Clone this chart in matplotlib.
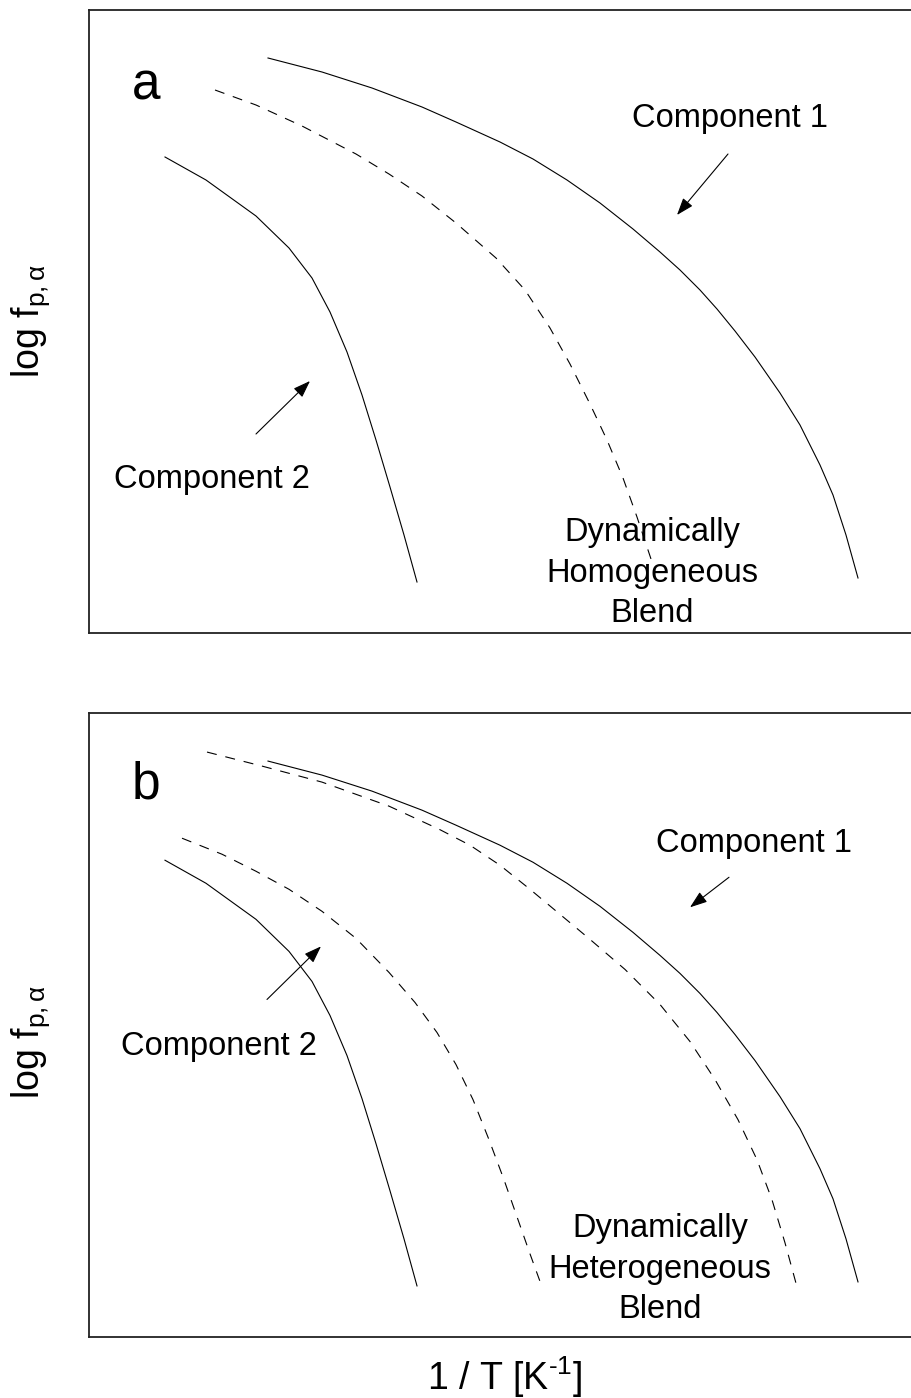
"""
Schematic: relaxation map of a blend, dynamically homogeneous (a) vs heterogeneous (b).
Usage: python plot.py  -> out.png
"""
import matplotlib
matplotlib.use("Agg")
import matplotlib.pyplot as plt

plt.rcParams["font.family"] = ["Liberation Sans", "DejaVu Sans"]
plt.rcParams["mathtext.fontset"] = "custom"
plt.rcParams["mathtext.rm"] = "Liberation Sans"
plt.rcParams["mathtext.it"] = "Liberation Sans:italic"

# arbitrary units, x ~ 1/T (0..831), y ~ log f (0..623)
comp1_x = [179, 233, 283, 333, 367, 411, 444, 478, 511, 544, 571, 591, 611, 628, 646, 666, 691, 711, 731, 744, 757, 769]
comp1_y = [575, 561, 545, 526, 511, 491, 474, 453, 430, 404, 381, 363, 343, 324, 302, 276, 240, 208, 168, 138, 98, 55]

comp2_x = [76, 117, 167, 200, 223, 241, 258, 273, 287, 301, 315, 328]
comp2_y = [476, 453, 417, 385, 355, 321, 281, 238, 193, 146, 98, 51]

# panel a: single blend process
homog_x = [126, 167, 213, 267, 300, 333, 367, 407, 436, 461, 481, 501, 518, 534, 548, 563]
homog_y = [543, 528, 507, 479, 459, 437, 410, 375, 343, 305, 269, 229, 193, 155, 116, 71]

# panel b: two blend processes
het_fast_x = [118, 173, 233, 300, 350, 381, 411, 441, 471, 501, 536, 571, 601, 626, 649, 668, 683, 696, 708]
het_fast_y = [584, 570, 554, 530, 507, 491, 471, 447, 422, 397, 367, 332, 295, 257, 217, 177, 137, 94, 50]
het_slow_x = [93, 133, 167, 200, 233, 267, 300, 326, 348, 367, 384, 400, 415, 428, 441, 453]
het_slow_y = [498, 482, 465, 447, 425, 398, 364, 334, 304, 272, 237, 197, 157, 120, 83, 50]

XMAX, YMAX = 831, 623
FS_TXT = 23.5
FS_LAB = 27
FS_PANEL = 37
DASH = (0, (9, 8))

fig = plt.figure(figsize=(9.11, 13.98), dpi=100)
ax_a = fig.add_axes([89 / 911, (1398 - 633) / 1398, 831 / 911, 623 / 1398])
ax_b = fig.add_axes([89 / 911, (1398 - 1337) / 1398, 831 / 911, 624 / 1398])


def _style(ax):
    ax.set_xlim(0, XMAX)
    ax.set_ylim(0, YMAX)
    ax.set_xticks([])
    ax.set_yticks([])
    ax.spines["right"].set_visible(False)
    for s in ("top", "left", "bottom"):
        ax.spines[s].set_linewidth(1.3)
        ax.spines[s].set_edgecolor("#222222")


def _arrow(ax, start, tip):
    ax.annotate("", xy=tip, xytext=start,
                arrowprops=dict(arrowstyle="-|>,head_length=0.7,head_width=0.25",
                                color="black", lw=0.8, mutation_scale=15,
                                shrinkA=0, shrinkB=0))


ylab = r"log f$_{\mathrm{p,α}}$"

# ── Panel a ─────────────────────────────────────────────
_style(ax_a)
ax_a.plot(comp1_x, comp1_y, color="black", lw=0.8)
ax_a.plot(comp2_x, comp2_y, color="black", lw=0.8)
ax_a.plot(homog_x, homog_y, color="black", lw=0.8, linestyle=DASH)
ax_a.text(57, 533, "a", fontsize=FS_PANEL, ha="center", va="baseline")
ax_a.text(641, 506, "Component 1", fontsize=FS_TXT, ha="center", va="baseline")
_arrow(ax_a, (639, 479), (588, 418))
ax_a.text(123, 145, "Component 2", fontsize=FS_TXT, ha="center", va="baseline")
_arrow(ax_a, (167, 199), (221, 252))
# baseline of the last line
ax_a.text(563, 11, "Dynamically\nHomogeneous\nBlend", fontsize=FS_TXT,
          ha="center", va="baseline", multialignment="center", linespacing=1.39)
ax_a.set_ylabel(ylab, fontsize=FS_LAB)
ax_a.yaxis.set_label_coords(-0.044, 0.50)

# ── Panel b ─────────────────────────────────────────────
_style(ax_b)
ax_b.plot(comp1_x, comp1_y, color="black", lw=0.8)
ax_b.plot(comp2_x, comp2_y, color="black", lw=0.8)
ax_b.plot(het_fast_x, het_fast_y, color="black", lw=0.8, linestyle=DASH)
ax_b.plot(het_slow_x, het_slow_y, color="black", lw=0.8, linestyle=DASH)
ax_b.text(57, 538, "b", fontsize=FS_PANEL, ha="center", va="baseline")
ax_b.text(665, 484, "Component 1", fontsize=FS_TXT, ha="center", va="baseline")
_arrow(ax_b, (640, 459), (601, 429))
ax_b.text(130, 282, "Component 2", fontsize=FS_TXT, ha="center", va="baseline")
_arrow(ax_b, (178, 337), (232, 390))
ax_b.text(571, 19, "Dynamically\nHeterogeneous\nBlend", fontsize=FS_TXT,
          ha="center", va="baseline", multialignment="center", linespacing=1.39)
ax_b.set_ylabel(ylab, fontsize=FS_LAB)
ax_b.yaxis.set_label_coords(-0.044, 0.473)
ax_b.set_xlabel(r"1 / T [K$^{\text{-1}}$]", fontsize=FS_LAB)
ax_b.xaxis.set_label_coords((505 - 89) / 831, -53 / 624)
ax_b.xaxis.label.set_va("baseline")

fig.savefig("out.png", dpi=100)
plt.close(fig)
